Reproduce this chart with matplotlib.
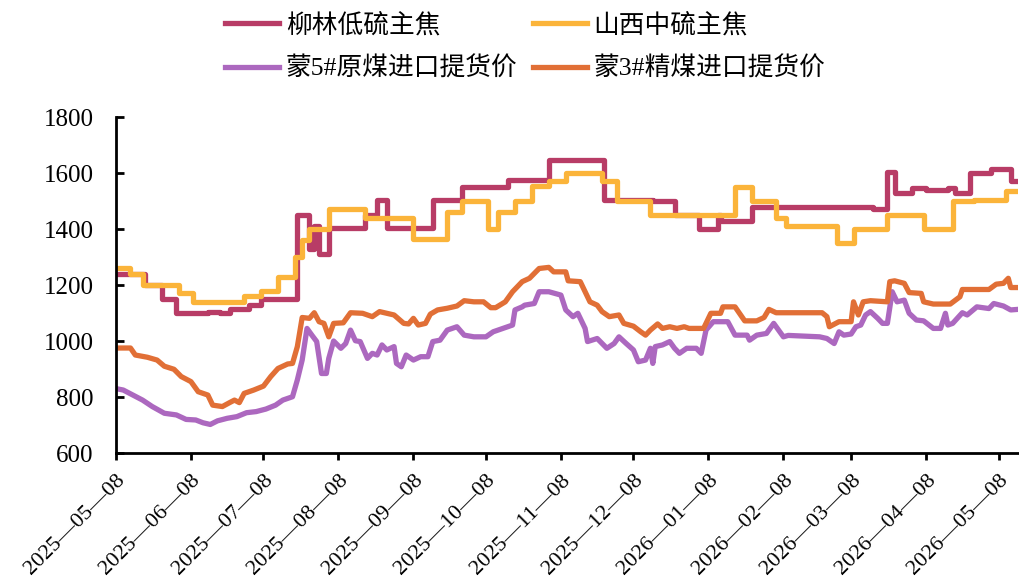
import matplotlib
matplotlib.use('Agg')
import matplotlib.pyplot as plt
import matplotlib.dates as mdates
import pandas as pd

plt.rcParams['font.family'] = ['Liberation Serif', 'Noto Sans CJK SC']

# 柳林低硫主焦 (price change points)
liulin_dates = ['2025-05-08', '2025-05-20', '2025-05-27', '2025-06-02', '2025-06-15', '2025-06-20',
                '2025-06-24', '2025-07-02', '2025-07-07', '2025-07-22', '2025-07-27', '2025-07-29',
                '2025-07-31', '2025-08-04', '2025-08-19', '2025-08-24', '2025-08-28', '2025-09-16',
                '2025-09-28', '2025-10-17', '2025-11-03', '2025-11-26', '2025-12-16', '2025-12-25',
                '2026-01-04', '2026-01-12', '2026-01-13', '2026-01-26', '2026-03-17', '2026-03-23',
                '2026-03-26', '2026-04-02', '2026-04-08', '2026-04-17', '2026-04-20', '2026-04-26',
                '2026-05-05', '2026-05-13', '2026-05-16']
liulin_vals = [1240, 1200, 1150, 1100, 1105, 1100,
               1115, 1130, 1150, 1450, 1330, 1410,
               1310, 1405, 1450, 1505, 1405, 1505,
               1550, 1575, 1645, 1505, 1500, 1450,
               1400, 1450, 1430, 1480, 1470, 1605,
               1530, 1545, 1540, 1545, 1530, 1600,
               1615, 1570, 1570]

# 山西中硫主焦 (price change points)
shanxi_dates = ['2025-05-08', '2025-05-14', '2025-05-19', '2025-06-03', '2025-06-09', '2025-06-30',
                '2025-07-07', '2025-07-14', '2025-07-21', '2025-07-24', '2025-07-27', '2025-08-04',
                '2025-08-19', '2025-09-08', '2025-09-22', '2025-09-28', '2025-10-09', '2025-10-13',
                '2025-10-20', '2025-10-27', '2025-11-03', '2025-11-10', '2025-11-25', '2025-12-01',
                '2025-12-15', '2026-01-19', '2026-01-26', '2026-02-05', '2026-02-09', '2026-03-02',
                '2026-03-09', '2026-03-23', '2026-04-07', '2026-04-19', '2026-04-28', '2026-05-11',
                '2026-05-16']
shanxi_vals = [1260, 1240, 1200, 1170, 1140, 1160,
               1180, 1230, 1300, 1360, 1400, 1470,
               1440, 1365, 1460, 1500, 1400, 1460,
               1500, 1555, 1570, 1600, 1570, 1500,
               1450, 1550, 1500, 1440, 1410, 1350,
               1400, 1450, 1400, 1500, 1505, 1535,
               1535]

# 蒙5#原煤进口提货价
meng5_dates = ['2025-05-08', '2025-05-11', '2025-05-15', '2025-05-19', '2025-05-23', '2025-05-28',
               '2025-06-02', '2025-06-06', '2025-06-10', '2025-06-13', '2025-06-16', '2025-06-19',
               '2025-06-23', '2025-06-27', '2025-07-01', '2025-07-05', '2025-07-09', '2025-07-13',
               '2025-07-16', '2025-07-20', '2025-07-22', '2025-07-24', '2025-07-26', '2025-07-28',
               '2025-07-30', '2025-08-01', '2025-08-03', '2025-08-04', '2025-08-06', '2025-08-09',
               '2025-08-11', '2025-08-13', '2025-08-15', '2025-08-17', '2025-08-20', '2025-08-22',
               '2025-08-24', '2025-08-26', '2025-08-28', '2025-08-31', '2025-09-01', '2025-09-03',
               '2025-09-05', '2025-09-08', '2025-09-11', '2025-09-14', '2025-09-16', '2025-09-19',
               '2025-09-22', '2025-09-26', '2025-09-29', '2025-10-03', '2025-10-08', '2025-10-11',
               '2025-10-15', '2025-10-19', '2025-10-20', '2025-10-23', '2025-10-24', '2025-10-28',
               '2025-10-30', '2025-11-03', '2025-11-08', '2025-11-10', '2025-11-13', '2025-11-15',
               '2025-11-18', '2025-11-19', '2025-11-23', '2025-11-27', '2025-11-30', '2025-12-02',
               '2025-12-05', '2025-12-08', '2025-12-10', '2025-12-13', '2025-12-15', '2025-12-16',
               '2025-12-17', '2025-12-20', '2025-12-23', '2025-12-25', '2025-12-27', '2025-12-30',
               '2026-01-03', '2026-01-05', '2026-01-07', '2026-01-10', '2026-01-16', '2026-01-19',
               '2026-01-24', '2026-01-25', '2026-01-28', '2026-02-01', '2026-02-04', '2026-02-06',
               '2026-02-08', '2026-02-10', '2026-02-23', '2026-02-26', '2026-03-01', '2026-03-03',
               '2026-03-05', '2026-03-08', '2026-03-10', '2026-03-12', '2026-03-14', '2026-03-16',
               '2026-03-19', '2026-03-21', '2026-03-23', '2026-03-25', '2026-03-27', '2026-03-30',
               '2026-04-01', '2026-04-04', '2026-04-07', '2026-04-11', '2026-04-14', '2026-04-16',
               '2026-04-17', '2026-04-19', '2026-04-23', '2026-04-25', '2026-04-29', '2026-05-04',
               '2026-05-06', '2026-05-10', '2026-05-13', '2026-05-16']
meng5_vals = [830, 825, 807, 789, 766, 742,
              736, 720, 718, 708, 702, 715,
              724, 730, 744, 748, 757, 771,
              789, 801, 861, 932, 1045, 1021,
              998, 884, 884, 938, 1000, 974,
              991, 1039, 1001, 998, 938, 956,
              950, 986, 968, 980, 920, 908,
              950, 932, 944, 944, 998, 1003,
              1039, 1051, 1021, 1015, 1015, 1033,
              1045, 1057, 1111, 1122, 1128, 1134,
              1176, 1176, 1164, 1111, 1087, 1099,
              1045, 998, 1009, 974, 991, 1015,
              991, 968, 926, 932, 974, 920,
              980, 986, 998, 974, 956, 974,
              974, 956, 1039, 1069, 1069, 1021,
              1021, 1003, 1021, 1027, 1063, 1039,
              1015, 1020, 1015, 1009, 991, 1033,
              1021, 1025, 1051, 1057, 1093, 1105,
              1081, 1063, 1063, 1176, 1140, 1146,
              1099, 1075, 1072, 1045, 1045, 1099,
              1057, 1063, 1101, 1093, 1122, 1116,
              1134, 1125, 1111, 1113]

# 蒙3#精煤进口提货价
meng3_dates = ['2025-05-08', '2025-05-14', '2025-05-16', '2025-05-21', '2025-05-25', '2025-05-28',
               '2025-06-01', '2025-06-04', '2025-06-08', '2025-06-11', '2025-06-15', '2025-06-17',
               '2025-06-21', '2025-06-24', '2025-06-26', '2025-06-28', '2025-06-30', '2025-07-04',
               '2025-07-08', '2025-07-11', '2025-07-14', '2025-07-18', '2025-07-20', '2025-07-22',
               '2025-07-24', '2025-07-27', '2025-07-29', '2025-07-31', '2025-08-02', '2025-08-04',
               '2025-08-06', '2025-08-10', '2025-08-13', '2025-08-18', '2025-08-22', '2025-08-25',
               '2025-08-31', '2025-09-04', '2025-09-06', '2025-09-08', '2025-09-10', '2025-09-13',
               '2025-09-15', '2025-09-18', '2025-09-22', '2025-09-26', '2025-09-29', '2025-10-03',
               '2025-10-07', '2025-10-10', '2025-10-12', '2025-10-16', '2025-10-19', '2025-10-23',
               '2025-10-26', '2025-10-30', '2025-11-03', '2025-11-05', '2025-11-10', '2025-11-11',
               '2025-11-16', '2025-11-20', '2025-11-23', '2025-11-25', '2025-11-28', '2025-12-02',
               '2025-12-04', '2025-12-08', '2025-12-11', '2025-12-13', '2025-12-15', '2025-12-18',
               '2025-12-20', '2025-12-23', '2025-12-26', '2025-12-29', '2025-12-31', '2026-01-06',
               '2026-01-09', '2026-01-13', '2026-01-14', '2026-01-19', '2026-01-23', '2026-01-28',
               '2026-01-31', '2026-02-02', '2026-02-05', '2026-02-24', '2026-02-26', '2026-02-27',
               '2026-03-03', '2026-03-08', '2026-03-09', '2026-03-11', '2026-03-13', '2026-03-16',
               '2026-03-23', '2026-03-24', '2026-03-26', '2026-03-30', '2026-04-01', '2026-04-06',
               '2026-04-07', '2026-04-11', '2026-04-18', '2026-04-22', '2026-04-23', '2026-05-04',
               '2026-05-07', '2026-05-10', '2026-05-12', '2026-05-13', '2026-05-16']
meng3_vals = [975, 975, 950, 942, 932, 910,
              899, 873, 855, 819, 807, 771,
              766, 780, 789, 780, 813, 825,
              839, 873, 902, 918, 920, 980,
              1084, 1081, 1101, 1069, 1063, 1015,
              1063, 1065, 1101, 1099, 1087, 1105,
              1093, 1063, 1061, 1081, 1057, 1063,
              1096, 1111, 1117, 1125, 1144, 1140,
              1140, 1119, 1119, 1140, 1176, 1212,
              1224, 1259, 1263, 1247, 1247, 1215,
              1212, 1140, 1128, 1105, 1087, 1093,
              1063, 1053, 1033, 1021, 1039, 1061,
              1045, 1051, 1045, 1051, 1045, 1045,
              1099, 1099, 1122, 1122, 1072, 1072,
              1084, 1113, 1101, 1101, 1087, 1051,
              1069, 1069, 1140, 1093, 1140, 1144,
              1140, 1212, 1215, 1206, 1173, 1170,
              1140, 1132, 1132, 1158, 1184, 1184,
              1203, 1206, 1224, 1191, 1191]

names = ['柳林低硫主焦', '山西中硫主焦', '蒙5#原煤进口提货价', '蒙3#精煤进口提货价']
colors = ['#B83C66', '#FBB43A', '#AC68BF', '#E16F36']

fig = plt.figure(figsize=(10.2, 5.85), dpi=100)
ax = fig.add_axes([0.1137, 0.2256, 0.8843, 0.5744])

lw = 3.8
l1, = ax.plot(pd.to_datetime(liulin_dates), liulin_vals, drawstyle='steps-post', color=colors[0], lw=lw)
l2, = ax.plot(pd.to_datetime(shanxi_dates), shanxi_vals, drawstyle='steps-post', color=colors[1], lw=lw)
l3, = ax.plot(pd.to_datetime(meng5_dates), meng5_vals, color=colors[2], lw=lw)
l4, = ax.plot(pd.to_datetime(meng3_dates), meng3_vals, color=colors[3], lw=lw)

ax.set_ylim(600, 1800)
ax.set_yticks(range(600, 1801, 200))
ax.set_xlim(pd.Timestamp('2025-05-08'), pd.Timestamp('2026-05-16'))
ax.xaxis.set_major_locator(mdates.MonthLocator(bymonthday=8))
ax.xaxis.set_major_formatter(mdates.DateFormatter('%Y\u2014%m\u2014%d'))

for s in ['top', 'right']:
    ax.spines[s].set_visible(False)
for s in ['left', 'bottom']:
    ax.spines[s].set_linewidth(2)

ax.tick_params(axis='y', direction='in', length=6, width=2, labelsize=18, pad=16)
ax.tick_params(axis='x', direction='out', length=5, width=2, labelsize=16, pad=8)
for lab in ax.get_xticklabels():
    lab.set_rotation(45)
    lab.set_ha('right')
    lab.set_va('top')
    lab.set_rotation_mode('anchor')

fig.legend([l1, l3, l2, l4], [names[0], names[2], names[1], names[3]],
           ncol=2, loc='upper center', bbox_to_anchor=(0.515, 1.0), frameon=False,
           fontsize=18.5, handlelength=2.1, handletextpad=0.25, columnspacing=0.6,
           labelspacing=0.75, borderaxespad=0.1)

fig.savefig('out.png', dpi=100)
